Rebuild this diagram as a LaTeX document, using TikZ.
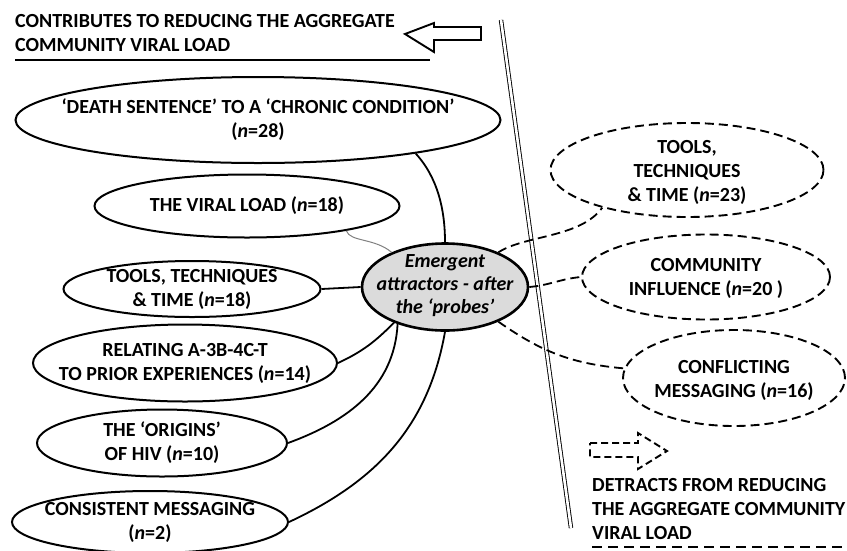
\documentclass[tikz,border=0pt]{standalone}
\usepackage{fontspec}
\setmainfont{Carlito}
\usetikzlibrary{shapes.geometric}
\tikzset{
  oval/.style={ellipse, draw, line width=2pt, inner sep=0pt},
  dashoval/.style={ellipse, draw, line width=1.9pt, dash pattern=on 9pt off 5pt, inner sep=0pt},
  lbl/.style={align=center, font=\fontsize{20}{24}\selectfont\bfseries, inner sep=0pt},
  link/.style={line width=1.8pt},
  dlink/.style={line width=1.8pt, dash pattern=on 9pt off 5pt},
}
\begin{document}
\begin{tikzpicture}[x=1pt,y=-1pt]
\useasboundingbox (0,0) rectangle (847,550);

% heading on the left with its solid underline and hollow arrow
\node[lbl, align=left, anchor=north west] (contrib) at (15,14)
  {CONTRIBUTES TO REDUCING THE AGGREGATE\\COMMUNITY VIRAL LOAD};
\draw[line width=2.8pt] (15,60) -- (430,60);
\draw[line width=1.9pt, line join=miter]
  (405,34) -- (434,23) -- (434,27) -- (481,27) -- (481,40) -- (434,40) -- (434,52) -- cycle;

% double dividing line
\draw[line width=0.9pt, double, double distance=2.6pt] (501,20) -- (571,528);

% central attractor
\node[oval, fill=gray!28, line width=2.6pt, minimum width=166pt, minimum height=87pt] (attr) at (445,287) {};
\node[lbl, font=\fontsize{20}{23}\selectfont\bfseries\itshape] (attrL) at (445,286)
  {Emergent\\attractors - after\\the `probes'};

% left-hand attractors
\node[oval, minimum width=485pt, minimum height=86pt] (death) at (258,120) {};
\node[lbl] (deathL) at (death) {`DEATH SENTENCE' TO A `CHRONIC CONDITION'\\(\textit{n}=28)};

\node[oval, minimum width=305pt, minimum height=63pt] (viral) at (247,206) {};
\node[lbl] (viralL) at (viral) {THE VIRAL LOAD (\textit{n}=18)};

\node[oval, minimum width=257pt, minimum height=56pt] (tools) at (192,289) {};
\node[lbl] (toolsL) at (tools) {TOOLS, TECHNIQUES\\\& TIME (\textit{n}=18)};

\node[oval, minimum width=304pt, minimum height=77pt] (relate) at (185,363) {};
\node[lbl] (relateL) at (relate) {RELATING A-3B-4C-T\\TO PRIOR EXPERIENCES (\textit{n}=14)};

\node[oval, minimum width=250pt, minimum height=67pt] (origin) at (162,443) {};
\node[lbl] (originL) at (origin) {THE `ORIGINS'\\OF HIV (\textit{n}=10)};

\node[oval, minimum width=276pt, minimum height=62pt] (consist) at (150,522) {};
\node[lbl] (consistL) at (consist) {CONSISTENT MESSAGING\\(\textit{n}=2)};

% right-hand attractors
\node[dashoval, minimum width=273pt, minimum height=94pt] (tools2) at (687,170) {};
\node[lbl] (tools2L) at (687,172) {TOOLS,\\TECHNIQUES\\\& TIME (\textit{n}=23)};

\node[dashoval, minimum width=248pt, minimum height=85pt] (commun) at (706,277) {};
\node[lbl] (communL) at (706,278) {COMMUNITY\\INFLUENCE (\textit{n}=20 )};

\node[dashoval, minimum width=222pt, minimum height=96pt] (conflict) at (734,378) {};
\node[lbl] (conflictL) at (734,380) {CONFLICTING\\MESSAGING (\textit{n}=16)};

% solid links
\draw[link] (death.-12) .. controls (438,178) and (445,210) .. (attr.north);
\draw[line width=1pt, gray] (viral.-14) .. controls (350,242) and (375,238) .. (attr.147);
\draw[link] (tools.east) -- (attr.west);
\draw[link] (relate.east) to[out=25, in=225] (attr.215);
\draw[link] (origin.east) to[out=20, in=-93] (attr.218);
\draw[link] (consist.east) to[out=25, in=-100] (attr.south);

% dashed links
\draw[dlink] (attr.33) .. controls (525,235) and (580,238) .. (tools2.-156);
\draw[dlink] (attr.east) to[out=5, in=185] (commun.west);
\draw[dlink] (attr.-33) to[out=-35, in=175] (conflict.175);

% dashed arrow and heading on the right
\draw[line width=1.9pt, dash pattern=on 7pt off 4pt]
  (590,443) -- (638,443) -- (638,433) -- (667,451) -- (638,469) -- (638,457) -- (590,457) -- cycle;
\node[lbl, align=left, anchor=north west] (detract) at (592,478)
  {DETRACTS FROM REDUCING\\THE AGGREGATE COMMUNITY\\VIRAL LOAD};
\draw[line width=2.8pt, dash pattern=on 10pt off 6pt] (592,547) -- (847,547);
\end{tikzpicture}
\end{document}
